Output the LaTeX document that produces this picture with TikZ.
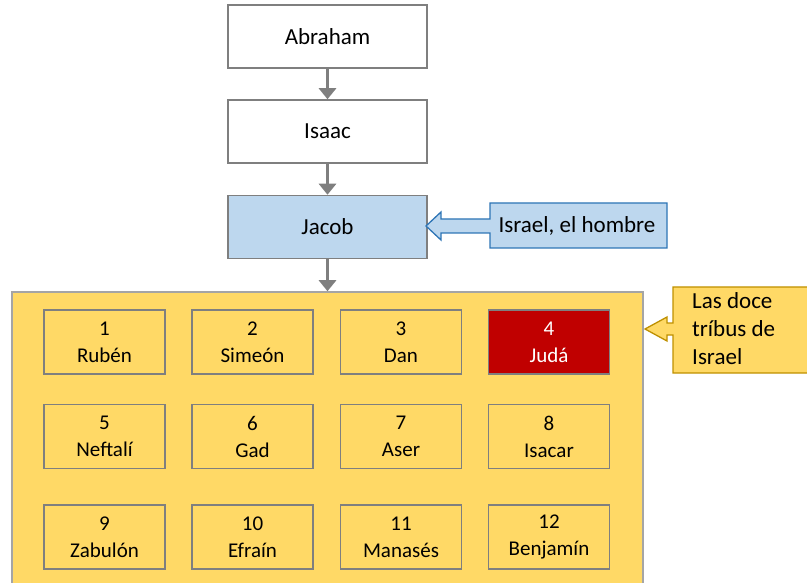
\documentclass[tikz,border=0pt]{standalone}
\usepackage{fontspec}
\setmainfont{Carlito}
\usetikzlibrary{arrows.meta}
\definecolor{gold}{HTML}{FFD966}
\definecolor{goldline}{HTML}{BF9000}
\definecolor{boxgray}{HTML}{7F7F7F}
\definecolor{biggray}{HTML}{A5A5A5}
\definecolor{lblue}{HTML}{BDD7EE}
\definecolor{bline}{HTML}{2E75B6}
\definecolor{judared}{HTML}{C00000}
\tikzset{
  mainbox/.style={draw=boxgray, line width=1.5pt, fill=white, minimum width=199pt, minimum height=63pt, inner sep=0pt, font=\fontsize{23}{28}\selectfont},
  tribe/.style={draw=boxgray, line width=1.6pt, fill=gold, minimum width=121pt, minimum height=64pt, inner sep=0pt, align=center, font=\fontsize{21}{27}\selectfont},
  conn/.style={draw=boxgray, line width=3pt, -{Triangle[width=17pt,length=11pt]}},
  bluecall/.style={draw=bline, line width=1.3pt, fill=lblue},
  goldcall/.style={draw=goldline, line width=1.3pt, fill=gold},
}
\begin{document}
\begin{tikzpicture}[x=1pt,y=-1pt]
\useasboundingbox (0,0) rectangle (807,583);
\clip (0,0) rectangle (807,583);
\node[mainbox] (abraham) at (327.5,36.5) {Abraham};
\node[mainbox] (isaac) at (327.5,131.5) {Isaac};
\node[mainbox, fill=lblue] (jacob) at (327.5,227) {Jacob};
\node[draw=biggray, line width=1.5pt, fill=gold, minimum width=631pt, minimum height=308pt, inner sep=0pt] (tribes) at (327.5,446) {};
\draw[conn] (abraham) -- (isaac);
\draw[conn] (isaac) -- (jacob);
\draw[conn] (jacob) -- (tribes);
% tribe boxes
\node[tribe] (t1) at (104.5,342) {1\\Rubén};
\node[tribe] (t2) at (252.5,342) {2\\Simeón};
\node[tribe] (t3) at (401,342) {3\\Dan};
\node[tribe, fill=judared, text=white] (t4) at (549,342) {4\\Judá};
\node[tribe] (t5) at (104.5,436.5) {5\\Neftalí};
\node[tribe] (t6) at (252.5,436.5) {6\\Gad};
\node[tribe] (t7) at (401,436.5) {7\\Aser};
\node[tribe] (t8) at (549,436.5) {8\\Isacar};
\node[tribe] (t9) at (104.5,537) {9\\Zabulón};
\node[tribe] (t10) at (252.5,537) {10\\Efraín};
\node[tribe] (t11) at (401,537) {11\\Manasés};
\node[tribe] (t12) at (549,537) {12\\Benjamín};
% blue callout
\coordinate (btip) at (426,226);
\draw[bluecall] (490,203) -- (667,203) -- (667,248) -- (490,248) -- (490,233) -- (441,233) -- (441,240) -- (btip) -- (441,212) -- (441,219) -- (490,219) -- cycle;
\node[font=\fontsize{23}{28}\selectfont, inner sep=0pt] (israel) at (577,226) {Israel, el hombre};
% gold callout
\coordinate (gtip) at (645,329);
\draw[goldcall] (673,287) -- (820,287) -- (820,373) -- (673,373) -- (673,335) -- (667,335) -- (667,341) -- (gtip) -- (667,317) -- (667,323) -- (673,323) -- cycle;
\node[font=\fontsize{23}{28}\selectfont, inner sep=0pt, align=left, anchor=north west] (doce) at (692,292) {Las doce\\tríbus de\\Israel};
\end{tikzpicture}
\end{document}
